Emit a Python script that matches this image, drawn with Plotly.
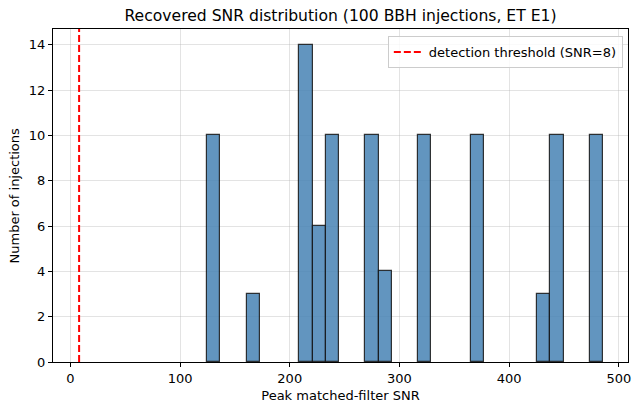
import plotly.graph_objects as go

# Histogram data (30 bins)
bin_start = 124.5
bin_width = 12.04
counts = [10, 0, 0, 3, 0, 0, 0, 14, 6, 10,
          0, 0, 10, 4, 0, 0, 10, 0, 0, 0,
          10, 0, 0, 0, 0, 3, 10, 0, 0, 10]
threshold = 8
x_ticks = [0, 100, 200, 300, 400, 500]
y_ticks = [0, 2, 4, 6, 8, 10, 12, 14]

centers = [bin_start + bin_width * (i + 0.5) for i in range(len(counts))]
bar_vals = [c if c > 0 else None for c in counts]
ymax = max(counts) * 1.05

fig = go.Figure()
fig.add_trace(go.Bar(
    x=centers, y=bar_vals, width=bin_width,
    marker=dict(color="rgba(70,130,180,0.85)",
                line=dict(color="rgba(20,20,20,0.85)", width=1.2)),
    showlegend=False, hoverinfo="x+y"))
fig.add_trace(go.Scatter(
    x=[threshold, threshold], y=[0, ymax], mode="lines",
    line=dict(color="red", width=2, dash="7px,3px"),
    name="detection threshold (SNR=8)"))

font = "DejaVu Sans, Arial, sans-serif"
axis_common = dict(showline=True, mirror=True, linecolor="black", linewidth=1,
                   ticks="outside", ticklen=4, tickcolor="black",
                   showgrid=True, gridcolor="rgba(176,176,176,0.35)", gridwidth=1,
                   zeroline=False, tickfont=dict(size=13, color="black"),
                   automargin=False)

fig.update_layout(
    width=634, height=403,
    margin=dict(l=53, r=6, t=29, b=41),
    paper_bgcolor="white", plot_bgcolor="white",
    font=dict(family=font, color="black"),
    title=dict(text="Recovered SNR distribution (100 BBH injections, ET E1)",
               x=0.5, xanchor="center", y=1 - 16 / 403, yanchor="middle",
               xref="paper", font=dict(size=15.6)),
    bargap=0,
    legend=dict(x=0.991, y=0.979, xanchor="right", yanchor="top",
                bgcolor="rgba(255,255,255,0.8)", bordercolor="#cccccc",
                borderwidth=1, font=dict(size=13), itemwidth=30,
                tracegroupgap=0),
    xaxis=dict(range=[-15.8, 508.3], tickvals=x_ticks,
               title=dict(text="Peak matched-filter SNR", font=dict(size=13)),
               **axis_common),
    yaxis=dict(range=[0, ymax], tickvals=y_ticks, **axis_common),
    annotations=[dict(text="Number of injections", textangle=-90,
                      xref="paper", yref="paper", x=(14 - 53) / 575, y=0.5,
                      xanchor="center", yanchor="middle", showarrow=False,
                      font=dict(size=13))],
)
fig.write_html("out.html",
               config={"displayModeBar": False},
               post_script="document.body.style.margin='0px';document.body.style.overflow='hidden';")
